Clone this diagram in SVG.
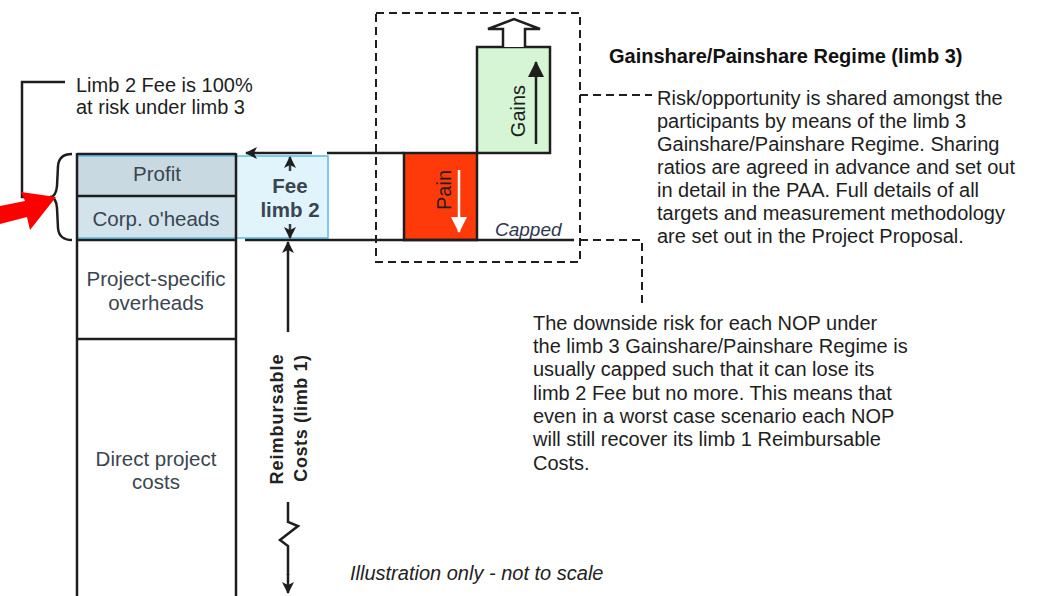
<svg xmlns="http://www.w3.org/2000/svg" width="1043" height="596" viewBox="0 0 1043 596">
  <defs>
    <style>
      text { font-family: "Liberation Sans", Arial, sans-serif; }
      .body { font-size: 20px; fill: #1e1e1e; }
      .box { font-size: 20.5px; fill: #3a4550; text-anchor: middle; }
      .bold { font-weight: bold; }
      .ln { stroke: #1e1e1e; stroke-width: 2.5; fill: none; }
      .dash { stroke: #1e1e1e; stroke-width: 2; fill: none; stroke-dasharray: 8 5; }
    </style>
    <marker id="head" viewBox="0 0 12 12" refX="11" refY="6" markerWidth="12" markerHeight="12" markerUnits="userSpaceOnUse" orient="auto">
      <path d="M0,0 L12,6 L0,12 L3,6 Z" fill="#1e1e1e"/>
    </marker>
    <marker id="headL" viewBox="0 0 16 16" refX="15" refY="8" markerWidth="16" markerHeight="16" markerUnits="userSpaceOnUse" orient="auto">
      <path d="M0,0 L16,8 L0,16 Z" fill="#1e1e1e"/>
    </marker>
    <marker id="headW" viewBox="0 0 16 16" refX="15" refY="8" markerWidth="16" markerHeight="16" markerUnits="userSpaceOnUse" orient="auto">
      <path d="M0,0 L16,8 L0,16 Z" fill="#ffffff"/>
    </marker>
  </defs>

  <!-- cost stack -->
  <g id="profit">
    <rect x="77" y="154" width="159" height="42" fill="#c8d9e1"/>
    <text class="box" x="157" y="181">Profit</text>
  </g>
  <g id="corp-overheads">
    <rect x="77" y="196" width="159" height="43" fill="#d2e3ec"/>
    <text class="box" x="156" y="226">Corp. o'heads</text>
  </g>
  <g id="fee-limb2">
    <rect x="236" y="156" width="92" height="82" fill="#e1f4fc"/>
    <rect x="77" y="156" width="251" height="82" fill="none" stroke="#56bde8" stroke-width="1.5"/>
    <text class="box bold" x="290" y="193" font-size="19" fill="#333d47">Fee</text>
    <text class="box bold" x="290" y="217" font-size="19" fill="#333d47">limb 2</text>
  </g>
  <g id="project-overheads">
    <text class="box" x="156" y="286" fill="#2a2f36">Project-specific</text>
    <text class="box" x="156" y="310" fill="#2a2f36">overheads</text>
  </g>
  <g id="direct-costs">
    <text class="box" x="156" y="466" fill="#2a2f36">Direct project</text>
    <text class="box" x="156" y="489" fill="#2a2f36">costs</text>
  </g>
  <g id="stack-frame">
    <path class="ln" d="M77,153 V598 M236,153 V598 M77,154 H236 M77,196 H236 M77,240 H236 M77,339 H236"/>
  </g>

  <!-- gain / pain bars -->
  <g id="gains">
    <rect x="477" y="47" width="73" height="106" fill="#d5f5d5" stroke="#1e1e1e" stroke-width="2.5"/>
    <path d="M503,47 V29 H488 L514,19 L540,29 H525 V47" fill="#ffffff" stroke="#1e1e1e" stroke-width="2.5" stroke-linejoin="miter"/>
    <line x1="536" y1="144" x2="536" y2="62" stroke="#1e1e1e" stroke-width="2.5" marker-end="url(#headL)"/>
    <text class="body" transform="translate(525,111) rotate(-90)" text-anchor="middle" fill="#1e2a1e">Gains</text>
  </g>
  <g id="pain">
    <rect x="404" y="153" width="73" height="87" fill="#ff3a0a" stroke="#1e1e1e" stroke-width="2.5"/>
    <line x1="459" y1="170" x2="459" y2="232" stroke="#ffffff" stroke-width="2.5" marker-end="url(#headW)"/>
    <text class="body" transform="translate(451,190) rotate(-90)" text-anchor="middle" fill="#ffffff">Pain</text>
  </g>
  <g id="capped">
    <text x="495" y="236" font-size="19" font-style="italic" fill="#2c3850">Capped</text>
  </g>
  <g id="regime-frame">
    <rect class="dash" x="376" y="13" width="204" height="249"/>
  </g>

  <!-- connectors -->
  <g id="connectors">
    <!-- top and bottom level lines of the fee band -->
    <line class="ln" x1="312" y1="153" x2="246" y2="153" marker-end="url(#head)"/>
    <line class="ln" x1="327" y1="153" x2="404" y2="153"/>
    <line class="ln" x1="245" y1="240" x2="574" y2="240"/>
    <!-- fee limb 2 extent -->
    <line x1="290" y1="171" x2="290" y2="157" stroke="#333d47" stroke-width="2.5" marker-end="url(#head)"/>
    <line x1="290" y1="224" x2="290" y2="238" stroke="#333d47" stroke-width="2.5" marker-end="url(#head)"/>
    <!-- reimbursable costs extent -->
    <line class="ln" x1="288" y1="332" x2="288" y2="242" marker-end="url(#head)"/>
    <path class="ln" d="M288,502 V522 L298,526 L280,540 L288,546 V575"/>
    <line class="ln" x1="288" y1="574" x2="288" y2="593" marker-end="url(#head)"/>
    <!-- callouts -->
    <path class="dash" d="M580,95 H652"/>
    <path class="dash" d="M580,240 H642 V305"/>
    <path class="ln" d="M65,82 H22 V197 H42"/>
    <path class="ln" stroke-width="2" d="M72,154 Q59,154 58,166 L57,186 Q56,197 50,197 Q56,197 57,208 L58,228 Q59,240 72,240"/>
    <polygon points="0,206 25,201 21,192 56,197 30,230 27,217 0,224" fill="#ff0000"/>
  </g>

  <!-- side labels -->
  <g id="reimbursable-label">
    <text class="bold" font-size="18" letter-spacing="1" fill="#222" transform="translate(283,419) rotate(-90)" text-anchor="middle">Reimbursable</text>
    <text class="bold" font-size="18" letter-spacing="0.6" fill="#222" transform="translate(307,418) rotate(-90)" text-anchor="middle">Costs (limb 1)</text>
  </g>
  <g id="fee-at-risk-note">
    <text class="body" x="76" y="92">Limb 2 Fee is 100%</text>
    <text class="body" x="76" y="114">at risk under limb 3</text>
  </g>
  <g id="regime-note">
    <text x="609" y="63" font-size="20" font-weight="bold" fill="#111">Gainshare/Painshare Regime (limb 3)</text>
    <text class="body" x="657" y="105">Risk/opportunity is shared amongst the</text>
    <text class="body" x="657" y="128">participants by means of the limb 3</text>
    <text class="body" x="657" y="151">Gainshare/Painshare Regime.  Sharing</text>
    <text class="body" x="657" y="174">ratios are agreed in advance and set out</text>
    <text class="body" x="657" y="197">in detail in the PAA.  Full details of all</text>
    <text class="body" x="657" y="220">targets and measurement methodology</text>
    <text class="body" x="657" y="243">are set out in the Project Proposal.</text>
  </g>
  <g id="downside-note">
    <text class="body" x="533" y="330">The downside risk for each NOP under</text>
    <text class="body" x="533" y="353">the limb 3 Gainshare/Painshare Regime is</text>
    <text class="body" x="533" y="376">usually capped such that it can lose its</text>
    <text class="body" x="533" y="400">limb 2 Fee but no more.  This means that</text>
    <text class="body" x="533" y="423">even in a worst case scenario each NOP</text>
    <text class="body" x="533" y="446">will still recover its limb 1 Reimbursable</text>
    <text class="body" x="533" y="470">Costs.</text>
  </g>
  <g id="scale-note">
    <text x="350" y="580" font-size="20" font-style="italic" fill="#222">Illustration only - not to scale</text>
  </g>
</svg>
